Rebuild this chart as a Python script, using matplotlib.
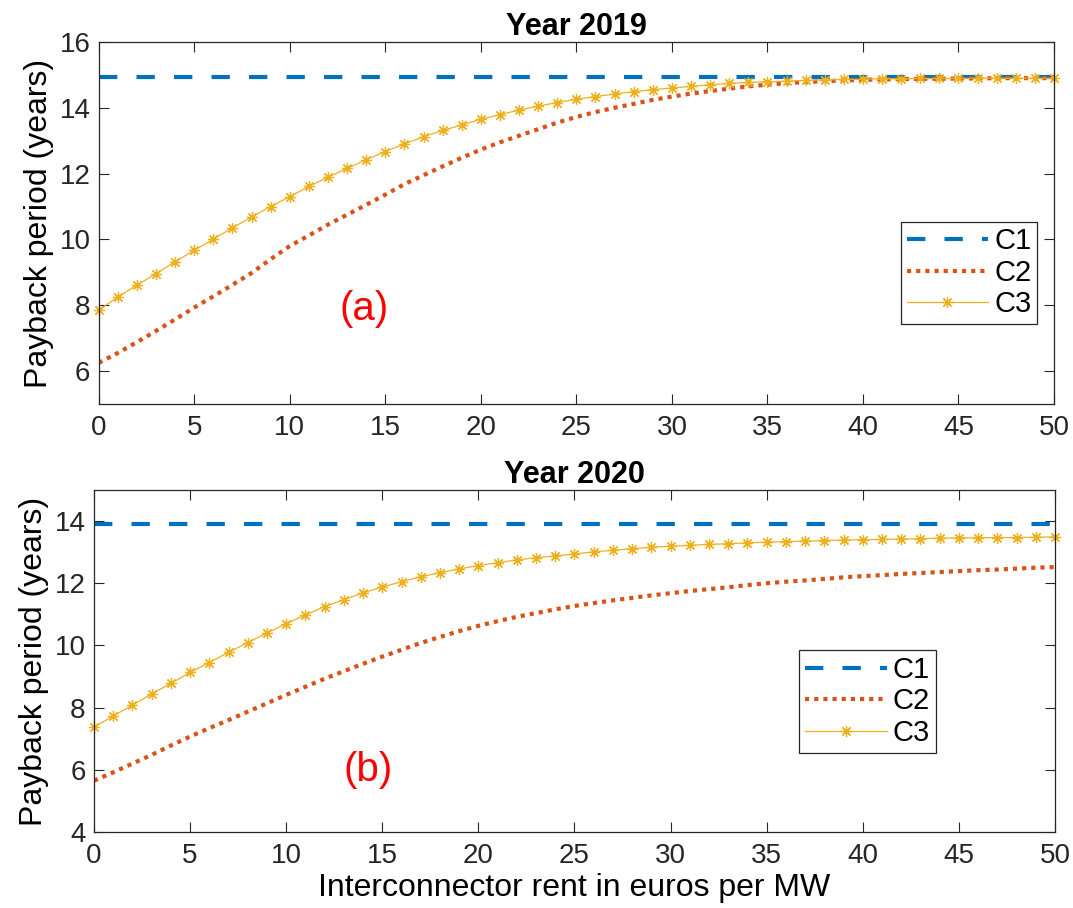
import numpy as np
import matplotlib
matplotlib.use('Agg')
import matplotlib.pyplot as plt

#%% Dados
x = np.arange(0, 51)

# Ano 2019
c1_2019 = 14.92
c2_2019 = [6.25, 6.55, 6.88, 7.22, 7.57, 7.93, 8.27, 8.62, 8.98, 9.4,
           9.8, 10.12, 10.45, 10.75, 11.05, 11.36, 11.68, 11.95, 12.22, 12.48,
           12.73, 12.95, 13.15, 13.35, 13.55, 13.72, 13.87, 14.0, 14.12, 14.24,
           14.34, 14.43, 14.51, 14.58, 14.65, 14.70, 14.75, 14.78, 14.81, 14.83,
           14.85, 14.86, 14.87, 14.88, 14.88, 14.89, 14.89, 14.9, 14.9, 14.9, 14.9]
c3_2019 = [7.85, 8.25, 8.61, 8.96, 9.32, 9.67, 10.01, 10.35, 10.68, 11.0,
           11.30, 11.61, 11.89, 12.16, 12.42, 12.67, 12.90, 13.12, 13.31, 13.48,
           13.65, 13.79, 13.93, 14.05, 14.16, 14.26, 14.34, 14.42, 14.49, 14.55,
           14.60, 14.65, 14.70, 14.74, 14.77, 14.79, 14.81, 14.83, 14.85, 14.86,
           14.87, 14.88, 14.885, 14.89, 14.89, 14.89, 14.9, 14.9, 14.9, 14.9, 14.9]

# Ano 2020
c1_2020 = 13.9
c2_2020 = [5.65, 5.92, 6.2, 6.48, 6.78, 7.07, 7.34, 7.6, 7.87, 8.14,
           8.41, 8.67, 8.93, 9.17, 9.41, 9.64, 9.86, 10.08, 10.27, 10.46,
           10.63, 10.78, 10.92, 11.04, 11.16, 11.27, 11.36, 11.45, 11.53, 11.61,
           11.68, 11.75, 11.81, 11.87, 11.94, 12.0, 12.05, 12.09, 12.14, 12.19,
           12.23, 12.26, 12.3, 12.33, 12.36, 12.39, 12.42, 12.44, 12.47, 12.5, 12.52]
c3_2020 = [7.37, 7.73, 8.08, 8.44, 8.78, 9.13, 9.45, 9.78, 10.09, 10.40,
           10.70, 10.98, 11.25, 11.47, 11.69, 11.88, 12.05, 12.21, 12.34, 12.46,
           12.57, 12.66, 12.75, 12.82, 12.88, 12.94, 13.01, 13.06, 13.11, 13.16,
           13.19, 13.22, 13.25, 13.27, 13.30, 13.32, 13.34, 13.36, 13.37, 13.39,
           13.40, 13.41, 13.42, 13.43, 13.45, 13.46, 13.46, 13.47, 13.47, 13.48, 13.49]

labels = ['C1', 'C2', 'C3']

#%% Estilo (parecido com MATLAB)
plt.rcParams['font.family'] = ['Liberation Sans', 'DejaVu Sans']
plt.rcParams['font.size'] = 20
plt.rcParams['axes.linewidth'] = 0.9
plt.rcParams['axes.edgecolor'] = '#262626'
plt.rcParams['xtick.color'] = '#262626'
plt.rcParams['ytick.color'] = '#262626'
plt.rcParams['xtick.direction'] = 'in'
plt.rcParams['ytick.direction'] = 'in'
plt.rcParams['xtick.top'] = True
plt.rcParams['ytick.right'] = True
plt.rcParams['xtick.major.size'] = 7
plt.rcParams['ytick.major.size'] = 7
plt.rcParams['xtick.major.width'] = 0.8
plt.rcParams['ytick.major.width'] = 0.8
plt.rcParams['xtick.major.pad'] = 8
plt.rcParams['ytick.major.pad'] = 6

cores = ['#0072BD', '#D95319', '#EDB120']

fig = plt.figure(figsize=(10.73, 9.08), dpi=100)
ax1 = fig.add_axes([0.092, 0.5551, 0.8903, 0.3987])
ax2 = fig.add_axes([0.0876, 0.0837, 0.8956, 0.3767])


def plota(ax, c1, c2, c3, titulo, letra, pos_letra, ylim, yticks, leg_pos):
    ax.plot(x, np.full(len(x), c1), color=cores[0], lw=3,
            linestyle=(0, (4.4, 4.6)), label=labels[0])
    ax.plot(x, c2, color=cores[1], lw=3, linestyle=(0, (1, 1.2)), label=labels[1])
    # asterisco estilo MATLAB (+ e x sobrepostos)
    ax.plot(x, c3, color=cores[2], lw=0.9, marker=(8, 2, 0), markersize=8,
            markeredgewidth=0.9, label=labels[2], clip_on=False)
    ax.set_xlim(0, 50)
    ax.set_ylim(*ylim)
    ax.set_xticks(np.arange(0, 51, 5))
    ax.set_yticks(yticks)
    ax.set_title(titulo, fontsize=22, fontweight='bold', pad=4)
    ax.set_ylabel('Payback period (years)', fontsize=23, labelpad=4)
    ax.text(pos_letra[0], pos_letra[1], letra, color='red', fontsize=29,
            ha='center', va='center')
    leg = ax.legend(loc='upper left', bbox_to_anchor=leg_pos, fancybox=False,
                    edgecolor='#262626', framealpha=1, fontsize=21,
                    handlelength=2.8, handletextpad=0.2, borderpad=0.2,
                    labelspacing=0.12, borderaxespad=0)
    leg.get_frame().set_linewidth(0.9)


plota(ax1, c1_2019, c2_2019, c3_2019, 'Year 2019', '(a)', (13.9, 7.88),
      (5, 16), np.arange(6, 17, 2), (0.8395, 0.5036))
plota(ax2, c1_2020, c2_2020, c3_2020, 'Year 2020', '(b)', (14.26, 6.0),
      (4, 15), np.arange(4, 15, 2), (0.734, 0.532))

ax2.set_xlabel('Interconnector rent in euros per MW', fontsize=23, labelpad=3)

plt.savefig('out.png', dpi=100, facecolor='white')
